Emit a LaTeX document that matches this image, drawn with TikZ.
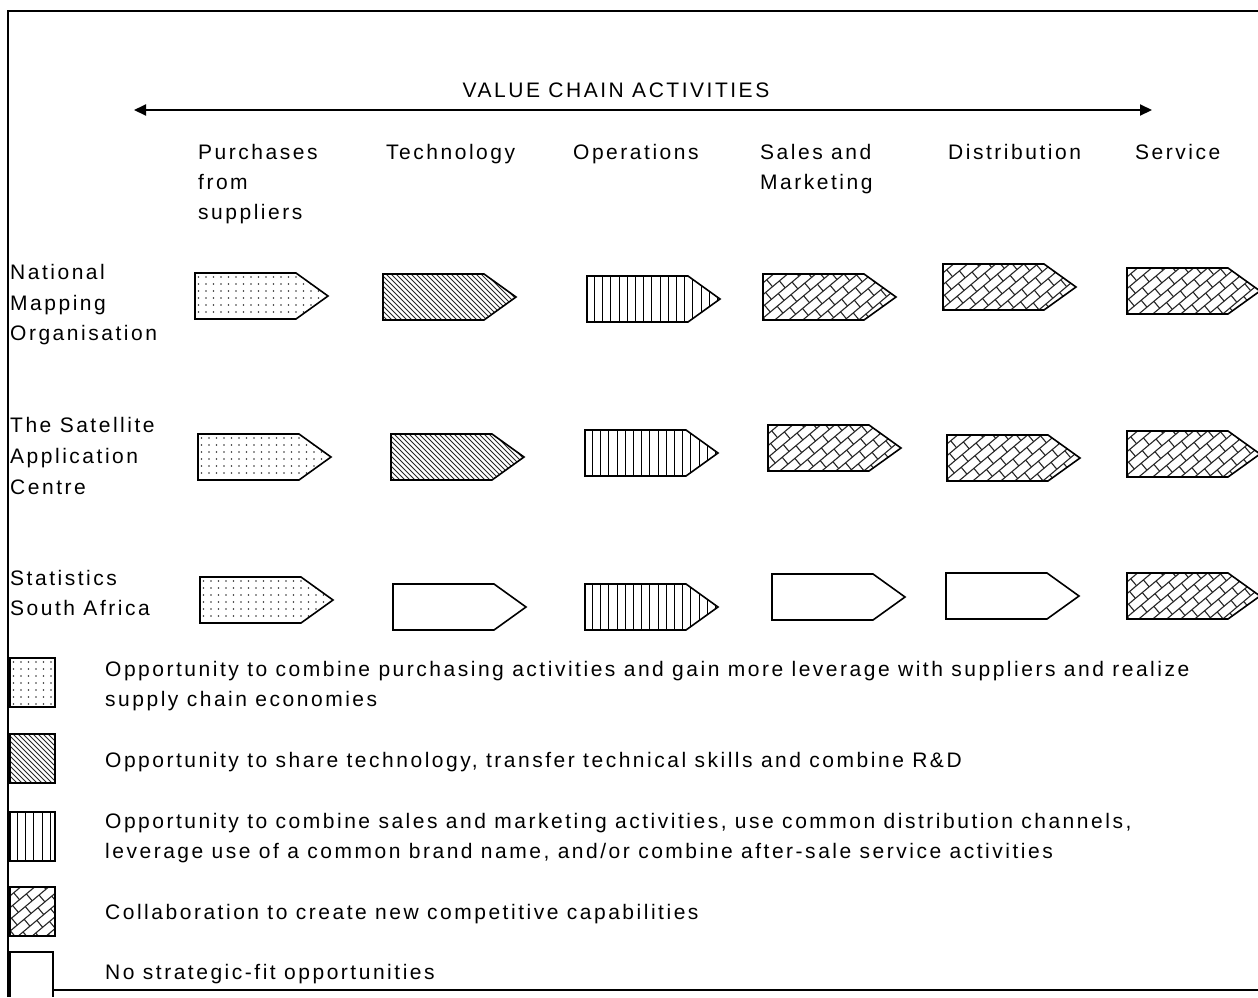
\documentclass[tikz,border=0pt]{standalone}
\usepackage{fontspec}
\setmainfont{Liberation Sans}[LetterSpace=12]
\usetikzlibrary{arrows.meta}
\tikzset{
  lbl/.style={anchor=base west,inner sep=0pt,font=\fontsize{21}{30}\selectfont},
  ttl/.style={anchor=base,inner sep=0pt,font=\fontsize{21}{30}\selectfont},
  outline/.style={line width=1.6pt,line join=miter},
  frameline/.style={line width=1.6pt},
  dotc/.style={fill=black!80},
  hatchc/.style={draw=black!85,line width=0.9pt},
  vertc/.style={draw=black,line width=1pt},
  brickc/.style={draw=black!85,line width=1.1pt},
}
% pattern fillers: #1 = left, #2 = top
\newcommand{\patdots}[2]{%
  \foreach \i in {-1,...,18}{\foreach \j in {-1,...,7}{%
    \fill[dotc] ({#1+3.5+7.5*\i},{#2+4+7*\j}) circle (0.9pt);}}}
\newcommand{\pathatch}[2]{%
  \foreach \i in {-12,...,30}{%
    \draw[hatchc] ({#1+5*\i},{#2-3}) -- ({#1+5*\i+56},{#2+53});}}
\newcommand{\patvert}[2]{%
  \foreach \i in {0,...,18}{%
    \draw[vertc] ({#1+7.5+8.2*\i},{#2-3}) -- ({#1+7.5+8.2*\i},{#2+53});}}
\newcommand{\patbrick}[2]{%
  \begin{scope}[shift={({#1+66},{#2+24})},rotate=40]
    \foreach \k in {-9,...,9}{%
      \draw[brickc] (-100,{9*\k}) -- (100,{9*\k});
      \foreach \m in {-6,...,6}{%
        \draw[brickc] ({18*\m+9*mod(\k+20,2)},{9*\k}) -- ({18*\m+9*mod(\k+20,2)},{9*\k+9});}}
  \end{scope}}
\newcommand{\patnone}[2]{}
% chevron: #1 left, #2 top, #3 pattern
\newcommand{\chev}[3]{%
  \begin{scope}
    \clip (#1,#2) -- ++(101,0) -- ++(32,23) -- ++(-32,23) -- ++(-101,0) -- cycle;
    #3{#1}{#2}
  \end{scope}
  \draw[outline] (#1,#2) -- ++(101,0) -- ++(32,23) -- ++(-32,23) -- ++(-101,0) -- cycle;}
% legend box: #1 top, #2 pattern
\newcommand{\legbox}[2]{%
  \begin{scope}
    \clip (10,#1) rectangle (55,{#1+49});
    #2{10}{#1}
  \end{scope}
  \draw[outline] (10,#1) rectangle (55,{#1+49});}
\begin{document}
\begin{tikzpicture}[x=1pt,y=-1pt]
\useasboundingbox (0,0) rectangle (1258,997);
\fill[white] (0,0) rectangle (1258,997);
% frame
\coordinate (fbl) at (8,997);
\coordinate (ftl) at (8,11);
\coordinate (ftr) at (1258,11);
\draw[frameline] (fbl) -- (ftl) -- (ftr);
\coordinate (bl) at (53,990);
\coordinate (br) at (1258,990);
\draw[frameline] (bl) -- (br);
% title and double arrow
\node[ttl] (title) at (616,97) {VALUE CHAIN ACTIVITIES};
\coordinate (vl) at (134,110);
\coordinate (vr) at (1152,110);
\draw[line width=2pt,{Triangle[length=12pt,width=11pt]}-{Triangle[length=12pt,width=11pt]}] (vl) -- (vr);
% column headers
\node[lbl] (hpa) at (198,159) {Purchases};
\node[lbl] (hpb) at (198,189) {from};
\node[lbl] (hpc) at (198,219) {suppliers};
\node[lbl] (htec) at (386,159) {Technology};
\node[lbl] (hop) at (573,159) {Operations};
\node[lbl] (hsa) at (760,159) {Sales and};
\node[lbl] (hsb) at (760,189) {Marketing};
\node[lbl] (hdis) at (948,159) {Distribution};
\node[lbl] (hser) at (1135,159) {Service};
% row labels
\node[lbl] (ra1) at (10,279) {National};
\node[lbl] (ra2) at (10,310) {Mapping};
\node[lbl] (ra3) at (10,340) {Organisation};
\node[lbl] (rb1) at (10,432) {The Satellite};
\node[lbl] (rb2) at (10,463) {Application};
\node[lbl] (rb3) at (10,494) {Centre};
\node[lbl] (rc1) at (10,585) {Statistics};
\node[lbl] (rc2) at (10,615) {South Africa};
% row 1
\chev{195}{273}{\patdots}
\chev{383}{274}{\pathatch}
\chev{587}{276}{\patvert}
\chev{763}{274}{\patbrick}
\chev{943}{264}{\patbrick}
\chev{1127}{268}{\patbrick}
% row 2
\chev{198}{434}{\patdots}
\chev{391}{434}{\pathatch}
\chev{585}{430}{\patvert}
\chev{768}{425}{\patbrick}
\chev{947}{435}{\patbrick}
\chev{1127}{431}{\patbrick}
% row 3
\chev{200}{577}{\patdots}
\chev{393}{584}{\patnone}
\chev{585}{584}{\patvert}
\chev{772}{574}{\patnone}
\chev{946}{573}{\patnone}
\chev{1127}{573}{\patbrick}
% legend
\legbox{658}{\patdots}
\legbox{734}{\pathatch}
\legbox{812}{\patvert}
\legbox{887}{\patbrick}
\draw[outline] (10,997) -- (10,952) -- (53,952) -- (53,997);
\node[lbl] (l1a) at (105,676) {Opportunity to combine purchasing activities and gain more leverage with suppliers and realize};
\node[lbl] (l1b) at (105,706) {supply chain economies};
\node[lbl] (l2) at (105,767) {Opportunity to share technology, transfer technical skills and combine R\&D};
\node[lbl] (l3a) at (105,828) {Opportunity to combine sales and marketing activities, use common distribution channels,};
\node[lbl] (l3b) at (105,858) {leverage use of a common brand name, and/or combine after-sale service activities};
\node[lbl] (l4) at (105,919) {Collaboration to create new competitive capabilities};
\node[lbl] (l5) at (105,979) {No strategic-fit opportunities};
\end{tikzpicture}
\end{document}
